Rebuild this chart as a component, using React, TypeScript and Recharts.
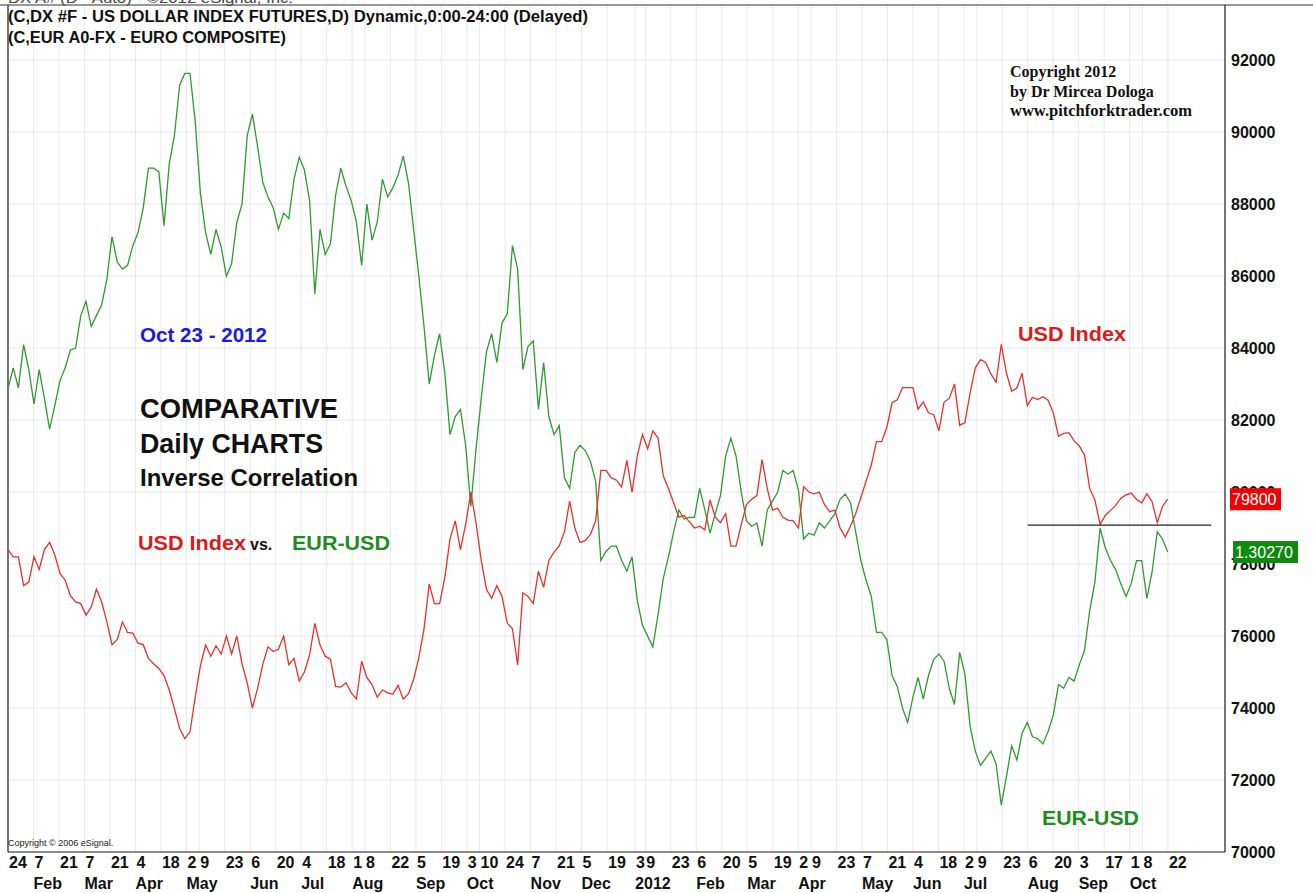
import React from 'react';
import { LineChart, Line, XAxis, YAxis, CartesianGrid, ReferenceLine } from 'recharts';

// one sample every ~2 trading days, starting Mon 24 Jan 2011 (weekday index 0)
const STEP = 2.04;

// US Dollar Index futures (x1000, as on the chart's scale)
const usdIndex = [
    78400, 78200, 78200, 77400, 77500, 78200, 77850, 78400, 78600, 78250,
    77740, 77550, 77120, 76950, 76900, 76580, 76800, 77300, 76950, 76400,
    75760, 75900, 76390, 76100, 76080, 75800, 75760, 75380, 75230, 75100,
    74900, 74500, 73980, 73430, 73150, 73340, 74300, 75180, 75750, 75440,
    75730, 75500, 76000, 75500, 76000, 75230, 74700, 74000, 74550, 75220,
    75700, 75570, 75630, 76000, 75200, 75380, 74750, 75000, 75480, 76350,
    75750, 75440, 75360, 74600, 74580, 74700, 74420, 74250, 75300, 74850,
    74650, 74300, 74500, 74420, 74380, 74630, 74250, 74390, 74800, 75400,
    76200, 77450, 76900, 76900, 77630, 78700, 79200, 78400, 79100, 80000,
    79140, 78100, 77300, 77050, 77400, 77100, 76360, 76200, 75200, 77200,
    77100, 76900, 77800, 77350, 78100, 78330, 78500, 78900, 79750, 79000,
    78600, 78650, 78820, 79200, 80600, 80600, 80400, 80330, 80140, 80880,
    80000, 81000, 81600, 81200, 81700, 81500, 80450, 80100, 79700, 79300,
    79350, 79180, 79000, 79050, 78950, 79780, 79300, 79150, 79400, 78500,
    78500, 79100, 79650, 79800, 79900, 80900, 80100, 79500, 79550, 79300,
    79220, 79200, 79000, 80150, 80000, 79950, 80000, 79650, 79450, 79500,
    79000, 78750, 79050, 79400, 79850, 80300, 80750, 81400, 81400, 81800,
    82480, 82560, 82900, 82900, 82900, 82300, 82500, 82200, 82150, 81700,
    82500, 82600, 83000, 81850, 81930, 82750, 83450, 83680, 83600, 83280,
    83050, 84100, 83300, 82800, 82890, 83300, 82400, 82630, 82570, 82650,
    82550, 82200, 81550, 81630, 81650, 81420, 81280, 81030, 80100, 79780,
    79100, 79350, 79490, 79630, 79830, 79920, 79970, 79800, 79700, 79950,
    79730, 79150, 79600, 79800,
];

// EUR/USD composite
const eurUsd = [
    1.3640, 1.3719, 1.3644, 1.3806, 1.3712, 1.3583, 1.3712, 1.3604, 1.3489, 1.3577,
    1.3671, 1.3719, 1.3786, 1.3793, 1.3915, 1.3969, 1.3874, 1.3915, 1.3955, 1.4050,
    1.4212, 1.4117, 1.4090, 1.4104, 1.4178, 1.4226, 1.4320, 1.4469, 1.4469, 1.4456,
    1.4253, 1.4483, 1.4591, 1.4780, 1.4825, 1.4825, 1.4645, 1.4374, 1.4226, 1.4145,
    1.4239, 1.4172, 1.4063, 1.4111, 1.4266, 1.4334, 1.4591, 1.4672, 1.4550, 1.4415,
    1.4361, 1.4320, 1.4239, 1.4300, 1.4280, 1.4428, 1.4510, 1.4462, 1.4347, 1.3996,
    1.4239, 1.4145, 1.4185, 1.4368, 1.4469, 1.4401, 1.4347, 1.4266, 1.4104, 1.4334,
    1.4199, 1.4266, 1.4428, 1.4361, 1.4395, 1.4442, 1.4514, 1.4415, 1.4239, 1.4063,
    1.3874, 1.3658, 1.3766, 1.3847, 1.3698, 1.3468, 1.3536, 1.3563, 1.3428, 1.3198,
    1.3414, 1.3604, 1.3779, 1.3847, 1.3739, 1.3888, 1.3921, 1.4178, 1.4090, 1.3712,
    1.3800, 1.3820, 1.3563, 1.3739, 1.3536, 1.3468, 1.3502, 1.3306, 1.3266, 1.3401,
    1.3428, 1.3408, 1.3367, 1.3293, 1.2995, 1.3029, 1.3049, 1.3049, 1.2995, 1.2955,
    1.3009, 1.2846, 1.2752, 1.2711, 1.2671, 1.2792, 1.2928, 1.3009, 1.3103, 1.3185,
    1.3151, 1.3157, 1.3157, 1.3266, 1.3185, 1.3098, 1.3171, 1.3239, 1.3387, 1.3455,
    1.3387, 1.3252, 1.3144, 1.3124, 1.3136, 1.3049, 1.3185, 1.3218, 1.3252, 1.3333,
    1.3320, 1.3333, 1.3259, 1.3076, 1.3097, 1.3090, 1.3137, 1.3117, 1.3144, 1.3171,
    1.3225, 1.3245, 1.3212, 1.3103, 1.2995, 1.2921, 1.2860, 1.2725, 1.2725, 1.2698,
    1.2563, 1.2522, 1.2441, 1.2387, 1.2481, 1.2556, 1.2475, 1.2563, 1.2623, 1.2644,
    1.2617, 1.2515, 1.2454, 1.2650, 1.2569, 1.2373, 1.2279, 1.2225, 1.2252, 1.2279,
    1.2231, 1.2076, 1.2184, 1.2299, 1.2245, 1.2346, 1.2387, 1.2333, 1.2326, 1.2306,
    1.2353, 1.2414, 1.2529, 1.2515, 1.2556, 1.2542, 1.2603, 1.2657, 1.2806, 1.2914,
    1.3117, 1.3043, 1.2995, 1.2961, 1.2907, 1.2860, 1.2910, 1.2995, 1.2995, 1.2853,
    1.2952, 1.3103, 1.3076, 1.3027,
];

// day ticks (weekday index from 24 Jan 2011) and their labels
const dayTicks = [
    0, 10, 20, 30, 40, 50, 60, 70, 75, 85, 95, 105, 115, 125, 135, 140, 150, 160, 170, 180,
    185, 195, 205, 215, 225, 235, 246, 250, 260, 270, 280, 290, 300, 310, 315, 325, 335, 345, 355, 365,
    375, 380, 390, 400, 410, 420, 430, 440, 445, 455,
];
const dayLabels = [
    '24', '7', '21', '7', '21', '4', '18', '2', '9', '23', '6', '20', '4', '18', '1', '8', '22', '5', '19', '3',
    '10', '24', '7', '21', '5', '19', '3', '9', '23', '6', '20', '5', '19', '2', '9', '23', '7', '21', '4', '18',
    '2', '9', '23', '6', '20', '3', '17', '1', '8', '22',
];
const monthTicks = [10, 30, 50, 70, 95, 115, 135, 160, 180, 205, 225, 246, 270, 290, 310, 335, 355, 375, 400, 420, 440];
const monthLabels = [
    'Feb', 'Mar', 'Apr', 'May', 'Jun', 'Jul', 'Aug', 'Sep', 'Oct', 'Nov', 'Dec',
    '2012', 'Feb', 'Mar', 'Apr', 'May', 'Jun', 'Jul', 'Aug', 'Sep', 'Oct',
];
const usdTicks = [70000, 72000, 74000, 76000, 78000, 80000, 82000, 84000, 86000, 88000, 90000, 92000];

const LAST_USD = 79800;
const LAST_EUR = 1.3027;
const SUPPORT = 79080; // horizontal support line drawn from 6 Aug 2012
const SUPPORT_FROM = 400;
const SUPPORT_TO = 472;

const X_MAX = 477.4;
const USD_DOMAIN: [number, number] = [70000, 93530];
const EUR_DOMAIN: [number, number] = [1.19, 1.5082];
const AXIS_W = 88;

// where the last EUR price sits on the USD price scale (both overlays share the pane)
const LAST_EUR_ON_USD =
    USD_DOMAIN[0] +
    ((LAST_EUR - EUR_DOMAIN[0]) / (EUR_DOMAIN[1] - EUR_DOMAIN[0])) * (USD_DOMAIN[1] - USD_DOMAIN[0]);

const RED = '#e8302c';
const GREEN = '#2f9a2f';
const FONT = '"Liberation Sans", Arial, sans-serif';
const SERIF = '"Liberation Serif", "Times New Roman", serif';

const data = usdIndex.map((v, i) => ({
    day: Math.round(i * STEP * 100) / 100,
    usd: v,
    eur: eurUsd[i],
}));

function DayTick(props: any) {
    const { x, y, payload } = props;
    const i = dayTicks.indexOf(payload.value);
    return (
        <text x={x + 1} y={y + 16} fontSize={16} fontWeight="bold" fontFamily={FONT} fill="#111" textAnchor="start">
            {dayLabels[i]}
        </text>
    );
}

function MonthTick(props: any) {
    const { x, y, payload } = props;
    const i = monthTicks.indexOf(payload.value);
    return (
        <text x={x} y={y + 17} fontSize={16} fontWeight="bold" fontFamily={FONT} fill="#111" textAnchor="start">
            {monthLabels[i]}
        </text>
    );
}

function PriceBox({ x, y, text, fill, w }: { x: number; y: number; text: string; fill: string; w: number }) {
    return (
        <g>
            <rect x={x} y={y - 11} width={w} height={22} fill={fill} />
            <text x={x + 2} y={y + 6} fill="#fff" fontSize={16} fontFamily={FONT}>
                {text}
            </text>
        </g>
    );
}

// price scale; the last prices are drawn as coloured boxes over the scale
function UsdTick(props: any) {
    const { x, y, payload } = props;
    if (payload.value === LAST_USD) {
        return <PriceBox x={x - 1} y={y} text={String(LAST_USD)} fill="#f00000" w={51} />;
    }
    if (payload.value === LAST_EUR_ON_USD) {
        return <PriceBox x={x + 2} y={y} text={LAST_EUR.toFixed(5)} fill="#0f8a0f" w={65} />;
    }
    return (
        <text x={x} y={y + 6} fill="#111" fontSize={16} fontWeight="bold" fontFamily={FONT} textAnchor="start">
            {payload.value}
        </text>
    );
}

export default function App() {
    return (
        <div style={{ position: 'absolute', left: 0, top: 0, width: 1313, height: 893, background: '#fff', overflow: 'hidden' }}>
            <LineChart width={1313} height={893} data={data} margin={{ top: 5, right: 0, left: 8, bottom: 0 }}>
                <CartesianGrid xAxisId="days" yAxisId="usd" stroke="#e9e9e9" horizontalValues={usdTicks} />
                <XAxis
                    xAxisId="days"
                    dataKey="day"
                    type="number"
                    domain={[0, X_MAX]}
                    ticks={dayTicks}
                    allowDataOverflow
                    height={20}
                    tickSize={0}
                    tickMargin={0}
                    tickLine={false}
                    axisLine={{ stroke: '#222', strokeWidth: 1.2 }}
                    tick={<DayTick />}
                    interval={0}
                />
                <XAxis
                    xAxisId="months"
                    dataKey="day"
                    type="number"
                    domain={[0, X_MAX]}
                    ticks={monthTicks}
                    allowDataOverflow
                    height={21}
                    tickSize={0}
                    tickMargin={0}
                    tickLine={false}
                    axisLine={false}
                    tick={<MonthTick />}
                    interval={0}
                />
                <YAxis
                    yAxisId="usd"
                    dataKey="usd"
                    orientation="right"
                    domain={USD_DOMAIN}
                    ticks={[...usdTicks, LAST_USD, LAST_EUR_ON_USD]}
                    allowDataOverflow
                    width={AXIS_W}
                    tickSize={0}
                    tickMargin={6}
                    tickLine={false}
                    axisLine={{ stroke: '#222', strokeWidth: 1.2 }}
                    tick={<UsdTick />}
                    interval={0}
                />
                <YAxis yAxisId="eur" dataKey="eur" domain={EUR_DOMAIN} allowDataOverflow hide />

                <ReferenceLine xAxisId="days" yAxisId="usd" x={0} stroke="#222" strokeWidth={1.2} />

                <Line
                    xAxisId="days"
                    yAxisId="eur"
                    type="linear"
                    dataKey="eur"
                    name="EUR-USD"
                    stroke={GREEN}
                    strokeWidth={1.3}
                    dot={false}
                    isAnimationActive={false}
                />
                <Line
                    xAxisId="days"
                    yAxisId="usd"
                    type="linear"
                    dataKey="usd"
                    name="USD Index"
                    stroke={RED}
                    strokeWidth={1.3}
                    dot={false}
                    isAnimationActive={false}
                />

                <ReferenceLine
                    xAxisId="days"
                    yAxisId="usd"
                    segment={[{ x: SUPPORT_FROM, y: SUPPORT }, { x: SUPPORT_TO, y: SUPPORT }]}
                    stroke="#222"
                    strokeWidth={1.3}
                />
            </LineChart>

            <svg width={1313} height={893} style={{ position: 'absolute', left: 0, top: 0, pointerEvents: 'none' }}>
                <line x1={0} y1={5} x2={1313} y2={5} stroke="#333" strokeWidth={1.2} />
                <text x={8} y={3} fontSize={14} fontFamily={FONT} fill="#444" textLength={285} lengthAdjust="spacingAndGlyphs">
                    DX A# (D - Auto) - ©2012 eSignal, Inc.
                </text>
                <text x={8} y={22} fontSize={16} fontWeight="bold" fontFamily={FONT} fill="#111" textLength={580} lengthAdjust="spacingAndGlyphs">
                    (C,DX #F - US DOLLAR INDEX FUTURES,D) Dynamic,0:00-24:00 (Delayed)
                </text>
                <text x={8} y={43} fontSize={16} fontWeight="bold" fontFamily={FONT} fill="#111" textLength={278} lengthAdjust="spacingAndGlyphs">
                    (C,EUR A0-FX - EURO COMPOSITE)
                </text>

                <g fontFamily={SERIF} fontWeight="bold" fontSize={16} fill="#111">
                    <text x={1010} y={77}>Copyright 2012</text>
                    <text x={1010} y={97}>by Dr Mircea Dologa</text>
                    <text x={1010} y={116} textLength={182} lengthAdjust="spacingAndGlyphs">www.pitchforktrader.com</text>
                </g>

                <g fontFamily={FONT} fontWeight="bold">
                    <text x={140} y={342} fontSize={20} fill="#1a1ae6" textLength={127} lengthAdjust="spacingAndGlyphs">Oct 23 - 2012</text>
                    <text x={140} y={418} fontSize={27} fill="#111" textLength={198} lengthAdjust="spacingAndGlyphs">COMPARATIVE</text>
                    <text x={140} y={453} fontSize={27} fill="#111" textLength={183} lengthAdjust="spacingAndGlyphs">Daily CHARTS</text>
                    <text x={140} y={486} fontSize={23} fill="#111" textLength={218} lengthAdjust="spacingAndGlyphs">Inverse Correlation</text>
                    <text x={138} y={550} fontSize={21} fill="#e01818" textLength={108} lengthAdjust="spacingAndGlyphs">USD Index</text>
                    <text x={250} y={550} fontSize={16} fill="#111">vs.</text>
                    <text x={292} y={550} fontSize={21} fill="#1f8c1f" textLength={98} lengthAdjust="spacingAndGlyphs">EUR-USD</text>
                    <text x={1018} y={341} fontSize={21} fill="#e01818" textLength={108} lengthAdjust="spacingAndGlyphs">USD Index</text>
                    <text x={1042} y={825} fontSize={21} fill="#1f8c1f" textLength={97} lengthAdjust="spacingAndGlyphs">EUR-USD</text>
                </g>
                <text x={8} y={846} fontSize={9} fontFamily={FONT} fill="#222">Copyright © 2006 eSignal.</text>
            </svg>
        </div>
    );
}
